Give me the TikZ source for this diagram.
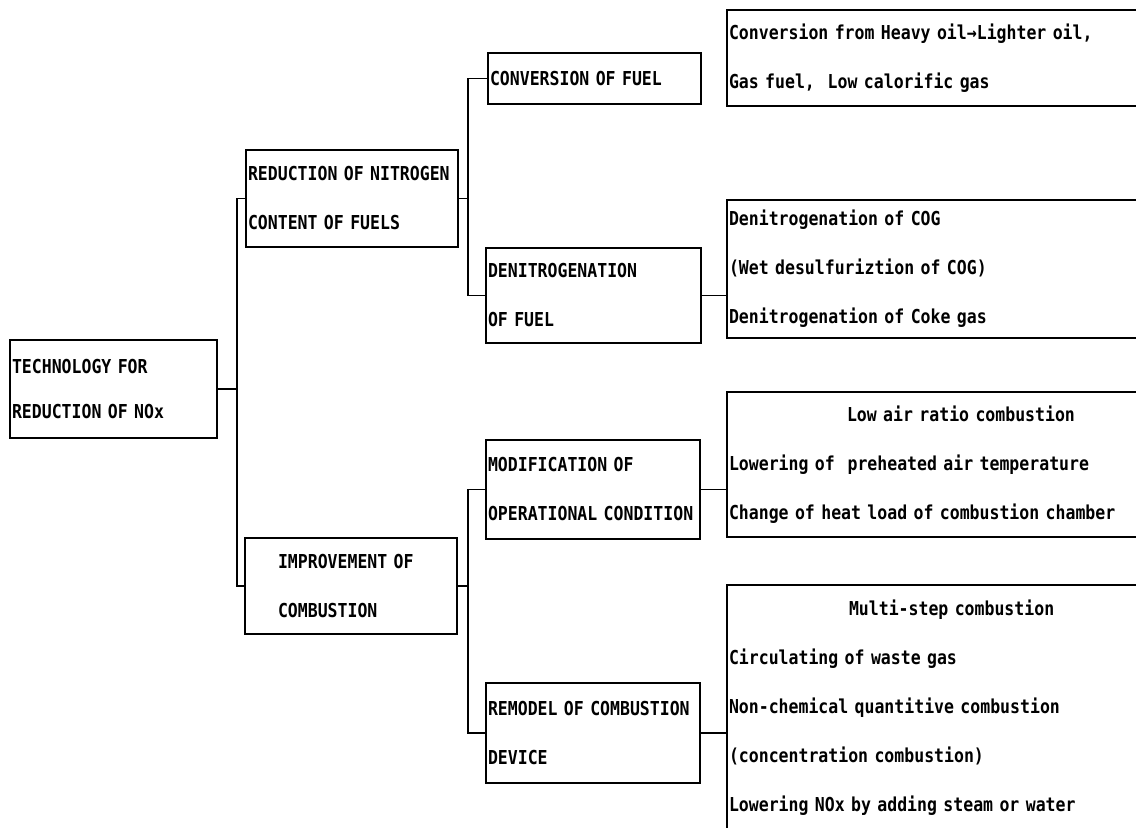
\documentclass[tikz,border=0pt]{standalone}
\usepackage{fontspec}
\setmonofont{DejaVu Sans Mono}[FakeStretch=0.86]

\begin{document}
\begin{tikzpicture}[
  x=0.5pt, y=-0.5pt,
  font=\fontsize{9.6}{24.5}\selectfont\ttfamily\bfseries,
  blk/.style={draw, line width=0.9pt, align=left, inner xsep=1pt, inner ysep=0pt},
  wire/.style={line width=0.9pt},
]
\clip (0,0) rectangle (1136,828);

% ============================================================ LEVEL 1
\node[blk, text width=101.5pt, minimum height=49pt,
      font=\fontsize{9.6}{22.5}\selectfont\ttfamily\bfseries] at (113.5,389) (root)
  {TECHNOLOGY FOR\\REDUCTION OF NOx};

% ============================================================ LEVEL 2
\node[blk, text width=104pt, minimum height=48.5pt] at (352,198.5) (red)
  {REDUCTION OF NITROGEN\\CONTENT OF FUELS};
\node[blk, text width=104pt, minimum height=48pt] at (351,586) (imp)
  {\hspace*{15.5pt}IMPROVEMENT OF\\\hspace*{15.5pt}COMBUSTION};

% ============================================================ LEVEL 3
\node[blk, text width=104.5pt, minimum height=25.5pt] at (594.5,78.5) (conv)
  {CONVERSION OF FUEL};
\node[blk, text width=105.5pt, minimum height=47.5pt] at (593.5,295.5) (denit)
  {DENITROGENATION\\OF FUEL};
\node[blk, text width=105pt, minimum height=49.5pt] at (593,489.5) (mod)
  {MODIFICATION OF\\OPERATIONAL CONDITION};
\node[blk, text width=105pt, minimum height=50pt] at (593,733) (remod)
  {REMODEL OF COMBUSTION\\DEVICE};

% ============================================================ LEVEL 4
\node[blk, text width=224.5pt, minimum height=48pt] at (953.5,58) (cf)
  {Conversion from Heavy oil→Lighter oil,\\Gas fuel,\ \ Low calorific gas};
\node[blk, text width=224.5pt, minimum height=69pt] at (953.5,269) (dn)
  {Denitrogenation of COG\\(Wet desulfuriztion of COG)\\Denitrogenation of Coke gas};
\node[blk, text width=224.5pt, minimum height=72.5pt] at (953.5,464.5) (md)
  {\hspace*{59pt}Low air ratio combustion\\Lowering of\ \ preheated air temperature\\
   Change of heat load of combustion chamber};
\node[blk, text width=224.5pt, minimum height=145pt] at (953.5,730) (rm)
  {\hspace*{60pt}Multi-step combustion\\Circulating of waste gas\\
   Non-chemical quantitive combustion\\(concentration combustion)\\
   Lowering NOx by adding steam or water\\\mbox{}};

% ============================================================ connectors
\path (root.east) ++(19,0) coordinate (jA);
\path (red.east)  ++(9,0)  coordinate (jB);
\path (imp.east)  ++(10,0) coordinate (jC);

\draw[wire] (root.east) -- (jA);
\draw[wire] (jA) |- (red.west);
\draw[wire] (jA) |- (imp.west);

\draw[wire] (red.east) -- (jB);
\draw[wire] (jB) |- (conv.west);
\draw[wire] (jB) |- (denit.west);

\draw[wire] (imp.east) -- (jC);
\draw[wire] (jC) |- (mod.west);
\draw[wire] (jC) |- (remod.west);

\draw[wire] (denit.east) -- (denit.east -| dn.west);
\draw[wire] (mod.east)   -- (mod.east -| md.west);
\draw[wire] (remod.east) -- (remod.east -| rm.west);

\end{tikzpicture}
\end{document}
